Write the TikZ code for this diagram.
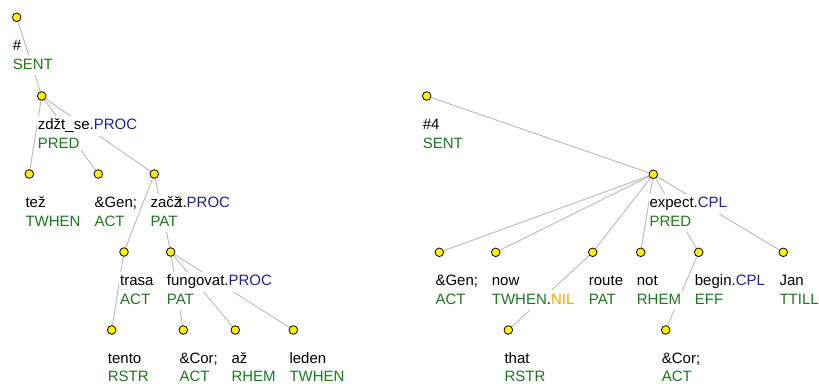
\documentclass[tikz,border=0pt]{standalone}
\usepackage{fontspec}
\setmainfont{Liberation Sans}
\definecolor{fgreen}{RGB}{30,120,30}
\definecolor{fblue}{RGB}{35,35,150}
\definecolor{nilor}{RGB}{255,165,0}
\definecolor{edgegray}{RGB}{185,185,185}
\pgfdeclarelayer{background}
\pgfsetlayers{background,main}
\tikzset{
  dot/.style={circle, minimum size=8.6pt, inner sep=0pt, draw=black, line width=0.8pt, fill=yellow},
  lab/.style={anchor=base west, fill=white, inner xsep=1pt, inner ysep=2pt,
    text height=12pt, text depth=4pt, font=\fontsize{15}{19}\selectfont},
  labbottom/.style={lab, text depth=0pt, inner ysep=0pt},
  edge/.style={draw=edgegray, line width=0.9pt}
}
\newcommand\tn[5]{%
  \node[dot] (#1) at (#2,#3) {};
  \node[lab] (#1a) at (#2-5,#3+33.5) {#4};
  \node[lab] (#1b) at (#2-5,#3+52) {#5};
}
\newcommand\tnlow[5]{%
  \node[dot] (#1) at (#2,#3) {};
  \node[lab] (#1a) at (#2-5,#3+33.5) {#4};
  \node[labbottom] (#1b) at (#2-5,#3+51.5) {#5};
}
\newcommand\gr[1]{\textcolor{fgreen}{#1}}
\newcommand\bl[1]{\textcolor{fblue}{#1}}
\begin{document}
\begin{tikzpicture}[x=1pt,y=-1pt]
\useasboundingbox (0,0) rectangle (819,383);
% left tree
\tn{ra}{16.7}{17.3}{\#}{\gr{SENT}}
\tn{zd}{41.7}{96}{zdžt\_se.\bl{PROC}}{\gr{PRED}}
\tn{tez}{29.3}{174}{tež}{\gr{TWHEN}}
\tn{gena}{98.3}{174}{\&Gen;}{\gr{ACT}}
\tn{zac}{154.3}{174}{zač\rlap{ž}\kern4.5pt t.\bl{PROC}}{\gr{PAT}}
\tn{trasa}{124}{252}{trasa}{\gr{ACT}}
\tn{fung}{170.7}{252}{fungovat.\bl{PROC}}{\gr{PAT}}
\tnlow{tento}{111.7}{330}{tento}{\gr{RSTR}}
\tnlow{cora}{183.3}{330}{\&Cor;}{\gr{ACT}}
\tnlow{az}{235.3}{330}{až}{\gr{RHEM}}
\tnlow{leden}{293.3}{330}{leden}{\gr{TWHEN}}
% right tree
\tn{rb}{426.7}{96}{\#4}{\gr{SENT}}
\tn{exp}{653.3}{174.3}{expect.\bl{CPL}}{\gr{PRED}}
\tn{genb}{439.3}{252.3}{\&Gen;}{\gr{ACT}}
\tn{now}{495.7}{252.3}{now}{\gr{TWHEN}.\textcolor{nilor}{NIL}}
\tn{route}{592.7}{252.3}{route}{\gr{PAT}}
\tn{not}{640.7}{252.3}{not}{\gr{RHEM}}
\tn{begin}{698.7}{252.3}{begin.\bl{CPL}}{\gr{EFF}}
\tn{jan}{783.3}{252.3}{Jan}{\gr{TTILL}}
\tnlow{that}{508.3}{330}{that}{\gr{RSTR}}
\tnlow{corb}{665.7}{330}{\&Cor;}{\gr{ACT}}
\begin{pgfonlayer}{background}
\draw[edge] (ra.center) -- (zd.center);
\draw[edge] (zd.center) -- (tez.center);
\draw[edge] (zd.center) -- (gena.center);
\draw[edge] (zd.center) -- (zac.center);
\draw[edge] (zac.center) -- (trasa.center);
\draw[edge] (zac.center) -- (fung.center);
\draw[edge] (trasa.center) -- (tento.center);
\draw[edge] (fung.center) -- (cora.center);
\draw[edge] (fung.center) -- (az.center);
\draw[edge] (fung.center) -- (leden.center);
\draw[edge] (rb.center) -- (exp.center);
\draw[edge] (exp.center) -- (genb.center);
\draw[edge] (exp.center) -- (now.center);
\draw[edge] (exp.center) -- (route.center);
\draw[edge] (exp.center) -- (not.center);
\draw[edge] (exp.center) -- (begin.center);
\draw[edge] (exp.center) -- (jan.center);
\draw[edge] (route.center) -- (that.center);
\draw[edge] (begin.center) -- (corb.center);
\end{pgfonlayer}
\end{tikzpicture}
\end{document}
